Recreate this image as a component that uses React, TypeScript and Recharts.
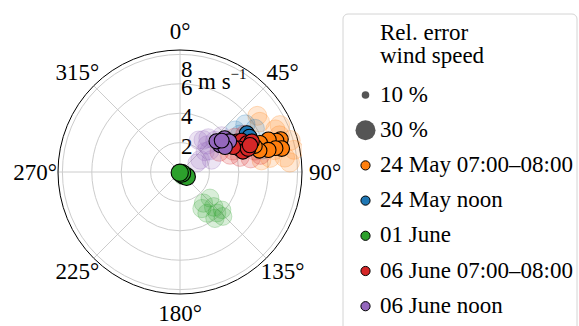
import React from 'react';
import {
  RadarChart,
  PolarGrid,
  PolarAngleAxis,
  PolarRadiusAxis,
  ScatterChart,
  Scatter,
  XAxis,
  YAxis,
  ZAxis,
} from 'recharts';

const DIRECTION_LABELS = ['0°', '45°', '90°', '135°', '180°', '225°', '270°', '315°'];
const SPEED_TICKS = [2, 4, 6, 8];
const R_MAX = 8.3;
const SIZE_TICKS = [10, 30];

// [wind direction (deg), wind speed (m/s), rel. error (%)]
const MAY24_AM = [
  [72, 7.2, 23], [72, 6.9, 22], [70, 6.4, 24], [70, 5.8, 22], [77, 7.1, 24],
  [76, 6.7, 22], [76, 6.2, 23], [75, 5.6, 22], [71, 5.4, 21],
];
const MAY24_AM_SPREAD = [
  [58, 6.4, 35], [66, 7.1, 34], [74, 7.8, 36], [79, 7.9, 33], [82, 7.2, 35], [81, 6.2, 34],
  [70, 7.2, 36], [82, 5.6, 32], [54, 6.5, 33], [65, 7.5, 35], [85, 7.5, 34], [77, 6.6, 33],
];
const MAY24_NOON = [[60, 5.25, 23], [63, 5.3, 22], [67, 5.3, 21]];
const MAY24_NOON_SPREAD = [[53, 4.7, 33], [54, 5.5, 34], [60, 5.9, 32], [58, 4.8, 33], [75, 5.8, 31]];
const JUNE01 = [[132, 0.3, 30], [125, 0.55, 29], [127, 0.15, 30], [200, 0.05, 28]];
const JUNE01_SPREAD = [
  [143, 2.65, 31], [131, 2.7, 30], [136, 3.3, 32], [147, 3.35, 30], [143, 3.95, 31], [132, 3.85, 29],
  [136, 4.2, 30], [149, 2.9, 31], [138, 3.75, 30], [150, 0.3, 29], [120, 0.4, 30],
];
const JUNE06_AM = [
  [62, 4.4, 23], [63, 4.7, 22], [67, 4.95, 24], [67, 5.3, 23], [68, 4.3, 22],
  [72, 4.5, 23], [71, 4.9, 24], [65, 4.0, 22], [69, 5.1, 23],
];
const JUNE06_AM_SPREAD = [
  [71, 3.6, 33], [76, 4.2, 32], [79, 4.9, 34], [78, 5.6, 33], [60, 5.1, 32],
  [58, 4.4, 33], [74, 5.3, 34], [63, 3.0, 32], [68, 3.9, 33],
];
const JUNE06_NOON = [[53, 3.8, 23], [58, 3.95, 22], [56, 3.3, 24], [61, 3.5, 22], [50, 3.25, 23], [53, 3.55, 22]];
const JUNE06_NOON_SPREAD = [
  [59, 1.6, 32], [51, 2.2, 31], [54, 2.5, 33], [62, 1.3, 30], [48, 3.2, 32], [40, 3.0, 33],
  [49, 3.75, 31], [69, 2.3, 32], [45, 2.6, 31], [30, 2.5, 31], [36, 2.7, 32],
];

const SERIES = [
  { name: '24 May 07:00–08:00', color: '#ff7f0e', main: MAY24_AM, spread: MAY24_AM_SPREAD },
  { name: '24 May noon', color: '#1f77b4', main: MAY24_NOON, spread: MAY24_NOON_SPREAD },
  { name: '01 June', color: '#2ca02c', main: JUNE01, spread: JUNE01_SPREAD },
  { name: '06 June 07:00–08:00', color: '#d62728', main: JUNE06_AM, spread: JUNE06_AM_SPREAD },
  { name: '06 June noon', color: '#9467bd', main: JUNE06_NOON, spread: JUNE06_NOON_SPREAD },
];

const FAMILY = "'Times New Roman', 'Liberation Serif', Tinos, FreeSerif, Times";
const W = 360;
const H = 326;
const CX = 180;
const CY = 172;
const OUTER = 122;
const FS = 23;

const toXY = (rows: number[][]) =>
  rows.map(([dir, spd, err]) => ({
    x: spd * Math.sin((dir * Math.PI) / 180),
    y: spd * Math.cos((dir * Math.PI) / 180),
    err,
  }));

const radiusOf = (p: any) => (p.size ? Math.sqrt(p.size / Math.PI) : (p.width || 16) / 2);

const solidDot = (color: string) => (p: any) => (
  <circle cx={p.cx} cy={p.cy} r={radiusOf(p)} fill={color} stroke="#000" strokeWidth={1.1} />
);
const faintDot = (color: string) => (p: any) => (
  <circle
    cx={p.cx}
    cy={p.cy}
    r={radiusOf(p)}
    fill={color}
    fillOpacity={0.18}
    stroke={color}
    strokeOpacity={0.25}
    strokeWidth={1}
  />
);

function Label({ x, y, size = FS, anchor = 'start', baseline, children }: any) {
  return (
    <text
      x={x}
      y={y}
      textAnchor={anchor}
      dominantBaseline={baseline}
      fontSize={size}
      style={{ fontFamily: FAMILY }}
      fill="#000"
    >
      {children}
    </text>
  );
}

function AngleTick(props: any) {
  const dx = props.x - CX;
  const dy = props.y - CY;
  const len = Math.hypot(dx, dy) || 1;
  return (
    <Label x={CX + (dx / len) * 145} y={CY + (dy / len) * 141} anchor="middle" baseline="central">
      {props.payload.value}
    </Label>
  );
}

function RadiusTick(props: any) {
  const v = props.payload.value;
  const top = v === 8;
  return (
    <g>
      <Label x={props.x + 1} y={props.y + (top ? 15 : 3.5)} baseline="central">
        {v}
      </Label>
      {top && (
        <Label x={props.x + 18} y={props.y + 35}>
          m s
          <tspan dy={-10} fontSize={15}>
            −1
          </tspan>
        </Label>
      )}
    </g>
  );
}

function LegendBox() {
  const rowY = (i: number) => 101.5 + i * 35.2;
  return (
    <svg width={237} height={326} style={{ position: 'absolute', left: 342, top: 0 }}>
      <rect x={1} y={14} width={234} height={330} rx={5} fill="#fff" stroke="#d4d4d4" />
      {['Rel. error', 'wind speed'].map((t, i) => (
        <Label key={t} x={38} y={40 + i * 23}>
          {t}
        </Label>
      ))}
      {SIZE_TICKS.map((s, i) => (
        <g key={s}>
          <circle cx={23.5} cy={rowY(i) - 6.5} r={s === 10 ? 3.8 : 10} fill="#555" />
          <Label x={38} y={rowY(i)}>{`${s} %`}</Label>
        </g>
      ))}
      {SERIES.map((s, i) => (
        <g key={s.name}>
          <circle cx={23.5} cy={rowY(i + 2) - 6.5} r={4.6} fill={s.color} stroke="#000" strokeWidth={1} />
          <Label x={38} y={rowY(i + 2)}>
            {s.name}
          </Label>
        </g>
      ))}
    </svg>
  );
}

export default function App() {
  const angleData = DIRECTION_LABELS.map((d) => ({ dir: d }));
  return (
    <div style={{ position: 'absolute', left: 0, top: 0, width: 579, height: 326, background: '#fff', fontFamily: FAMILY }}>
      <div style={{ position: 'absolute', left: 0, top: 0 }}>
        <RadarChart
          width={W}
          height={H}
          data={angleData}
          cx={CX}
          cy={CY}
          outerRadius={OUTER}
          margin={{ top: 0, right: 0, bottom: 0, left: 0 }}
        >
          <PolarGrid gridType="circle" stroke="#cccccc" />
          <PolarAngleAxis
            dataKey="dir"
            axisLineType="circle"
            axisLine={{ stroke: '#000', strokeWidth: 1 }}
            tickLine={false}
            tick={<AngleTick />}
          />
          <PolarRadiusAxis
            angle={90}
            type="number"
            domain={[0, R_MAX]}
            ticks={SPEED_TICKS}
            allowDataOverflow
            axisLine={false}
            tick={<RadiusTick />}
          />
        </RadarChart>
      </div>
      <div style={{ position: 'absolute', left: 0, top: 0 }}>
        <ScatterChart
          width={W}
          height={H}
          margin={{ top: CY - OUTER, left: CX - OUTER, right: W - CX - OUTER, bottom: H - CY - OUTER }}
        >
          <XAxis type="number" dataKey="x" domain={[-R_MAX, R_MAX]} allowDataOverflow hide />
          <YAxis type="number" dataKey="y" domain={[-R_MAX, R_MAX]} allowDataOverflow hide />
          <ZAxis type="number" dataKey="err" domain={[10, 30]} range={[50, 314]} />
          {SERIES.map((s) => (
            <Scatter
              key={s.name + '-spread'}
              data={toXY(s.spread)}
              shape={faintDot(s.color)}
              isAnimationActive={false}
            />
          ))}
          {SERIES.map((s) => (
            <Scatter
              key={s.name}
              name={s.name}
              data={toXY(s.main)}
              shape={solidDot(s.color)}
              isAnimationActive={false}
            />
          ))}
        </ScatterChart>
      </div>
      <LegendBox />
    </div>
  );
}
